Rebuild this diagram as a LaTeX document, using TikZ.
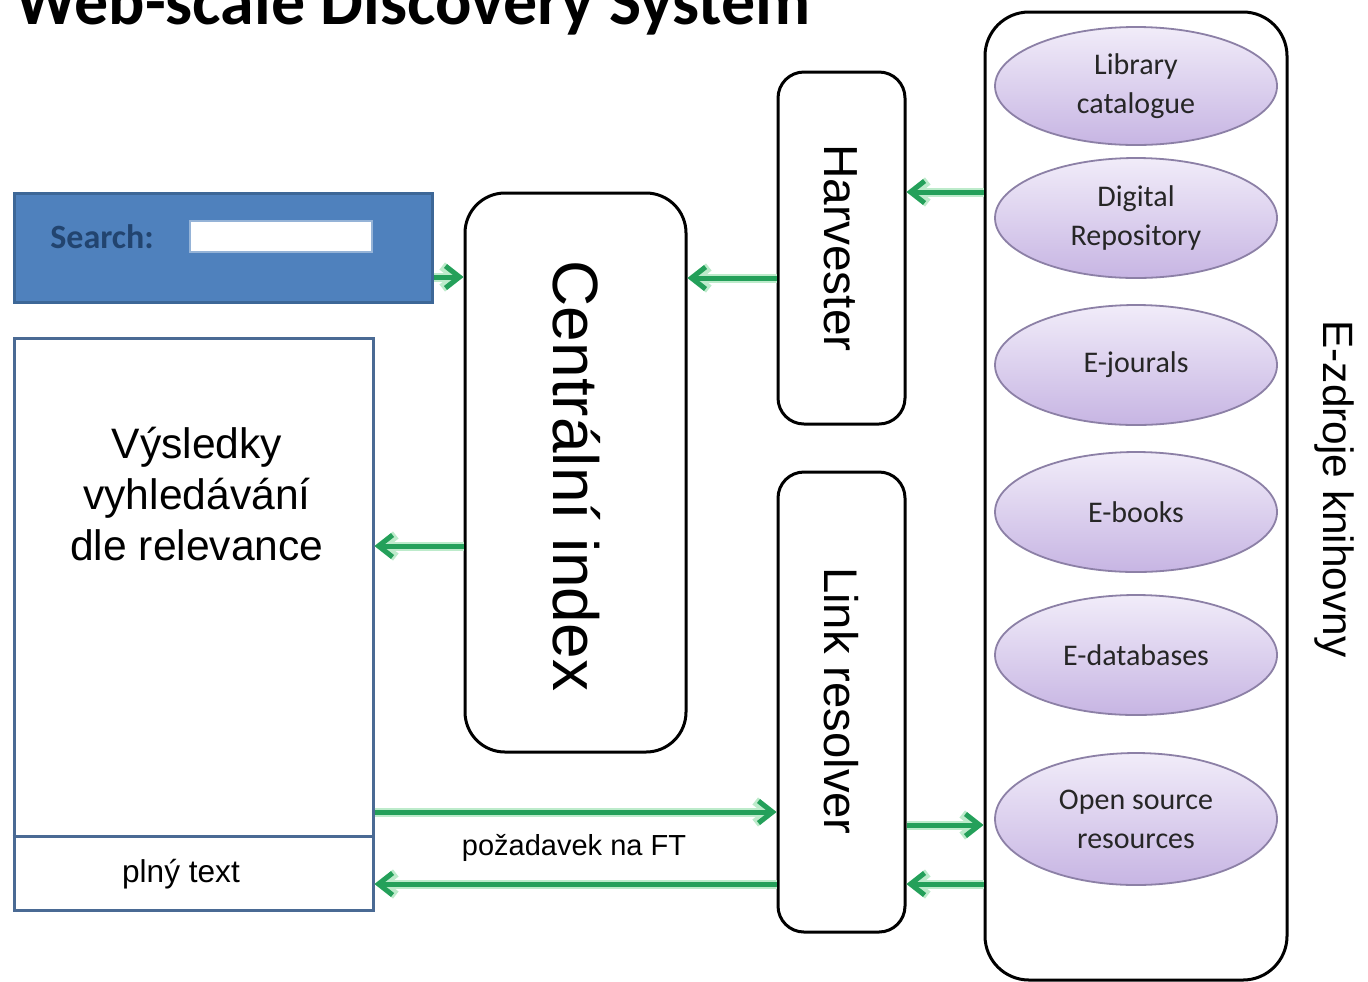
\documentclass[tikz,border=0pt]{standalone}
\usepackage{fontspec}
\setmainfont{Liberation Sans}
\newfontfamily\calibri{Carlito}
\usetikzlibrary{arrows.meta,fit,shapes.geometric}
\definecolor{sblue}{HTML}{4F81BD}
\definecolor{sborder}{HTML}{3D6797}
\definecolor{stext}{HTML}{22446F}
\definecolor{rborder}{HTML}{4A6A94}
\definecolor{elltop}{HTML}{F1ECF9}
\definecolor{ellbot}{HTML}{C7B5E3}
\definecolor{elldraw}{HTML}{8C80A6}
\definecolor{arrgreen}{HTML}{24A05A}
\definecolor{glow}{HTML}{BDEBCB}
\begin{document}
\begin{tikzpicture}[x=0.5pt,y=-0.5pt,
  rbox/.style={draw=black, line width=1.5pt, inner sep=0pt},
  ell/.style={ellipse, draw=elldraw, line width=0.9pt, top color=elltop, bottom color=ellbot,
    minimum width=141pt, minimum height=60pt, inner sep=0pt, align=center,
    font=\calibri\fontsize{15}{19.5}\selectfont, text=black!85},
  arr/.style={draw=arrgreen, line width=2.5pt, preaction={draw=glow, line width=4.5pt},
    -{Straight Barb[length=7pt,width=11pt]}},
  rot/.style={rotate=-90, inner sep=0pt}
]
\useasboundingbox (0,0) rectangle (1368,981);
\clip (0,0) rectangle (1368,981);
\fill[white] (0,0) rectangle (1368,981);

% title
\node[anchor=base west, inner sep=0pt] (title) at (15,24)
  {\resizebox{397.5pt}{!}{\calibri\bfseries\fontsize{34}{40}\selectfont Web-scale Discovery System}};

% search box
\node[draw=sborder, fill=sblue, line width=1.5pt, inner sep=0pt, fit={(14,193) (432,302)}] (search) {};
\node[anchor=west, inner sep=0pt, text=stext, font=\calibri\bfseries\fontsize{17}{20}\selectfont] (stxt) at (50,237) {Search:};
\node[fill=white, draw=sblue!60!white, line width=0.8pt, inner sep=0pt, fit={(190,221) (372,252)}] (input) {};

% results
\node[draw=rborder, line width=1.5pt, inner sep=0pt, fit={(14,338) (373,910)}] (res) {};
\coordinate (ydiv) at (0,836);
\draw[draw=rborder, line width=1.5pt] (res.west |- ydiv) -- (res.east |- ydiv);
\node[align=center, font=\fontsize{21.3}{25.6}\selectfont] (restxt) at (197,494) {Výsledky\\vyhledávání\\dle relevance};
\node[font=\fontsize{15.8}{19}\selectfont] (ft) at (181,874) {plný text};

% central index
\node[rbox, rounded corners=20pt, fit={(465,193) (686,752)}] (ci) {};
\node[rot, font=\fontsize{32}{38}\selectfont] (citxt) at (577,476) {Centrální index};

% harvester
\node[rbox, rounded corners=13pt, fit={(778,72) (905,424)}] (harv) {};
\node[rot, font=\fontsize{23.9}{28}\selectfont] (harvtxt) at (841,248) {Harvester};

% link resolver
\node[rbox, rounded corners=13pt, fit={(778,472) (905,932)}] (lr) {};
\node[rot, font=\fontsize{23.6}{28}\selectfont] (lrtxt) at (841,701) {Link resolver};

% e-resources container
\node[rbox, rounded corners=22pt, fit={(985,12) (1287,980)}] (ez) {};
\node[rot, font=\fontsize{21.2}{25}\selectfont] (eztxt) at (1334,489) {E-zdroje knihovny};

\node[ell, minimum height=59pt] (e1) at (1136,86) {Library\\catalogue};
\node[ell] (e2) at (1136,218) {Digital\\Repository};
\node[ell] (e3) at (1136,365) {E-jourals};
\node[ell] (e4) at (1136,512) {E-books};
\node[ell] (e5) at (1136,655) {E-databases};
\node[ell, minimum height=66pt] (e6) at (1136,819) {Open source\\resources};

% arrows
\coordinate (ya) at (0,277);
\coordinate (yb) at (0,278);
\coordinate (yc) at (0,192);
\coordinate (yd) at (0,546);
\coordinate (ye) at (0,812);
\coordinate (yf) at (0,884);
\coordinate (yg) at (0,825);
\draw[arr] (search.east |- ya) -- (ci.west |- ya);
\draw[arr] (harv.west |- yb) -- (ci.east |- yb);
\draw[arr] (ez.west |- yc) -- (harv.east |- yc);
\draw[arr] (ci.west |- yd) -- (res.east |- yd);
\draw[arr] (res.east |- ye) -- (lr.west |- ye);
\draw[arr] (lr.west |- yf) -- (res.east |- yf);
\draw[arr] (lr.east |- yg) -- (ez.west |- yg);
\draw[arr] (ez.west |- yf) -- (lr.east |- yf);

\node[font=\fontsize{14.5}{17}\selectfont] (req) at (574,848) {požadavek na FT};
\end{tikzpicture}
\end{document}
